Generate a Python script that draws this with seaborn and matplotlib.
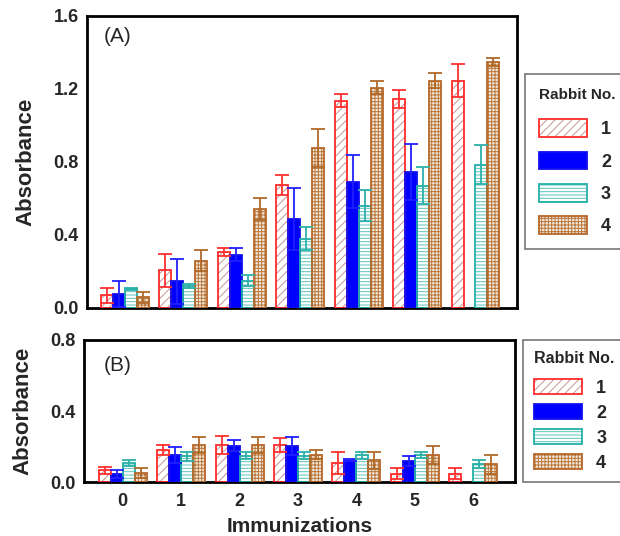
import numpy as np
import pandas as pd
import matplotlib
matplotlib.use("Agg")
import matplotlib.pyplot as plt
import seaborn as sns
from matplotlib.patches import Rectangle, Patch

# ---------------- data ----------------
immunizations = ["0", "1", "2", "3", "4", "5", "6"]
rabbits = ["1", "2", "3", "4"]

# Panel A
a_r1 = [0.070, 0.206, 0.307, 0.675, 1.135, 1.146, 1.246]
a_r1_err = [0.040, 0.090, 0.020, 0.055, 0.035, 0.050, 0.090]
a_r2 = [0.077, 0.146, 0.292, 0.490, 0.693, 0.745, np.nan]
a_r2_err = [0.073, 0.124, 0.036, 0.170, 0.147, 0.151, np.nan]
a_r3 = [0.104, 0.119, 0.150, 0.380, 0.560, 0.670, 0.785]
a_r3_err = [0.006, 0.010, 0.030, 0.065, 0.086, 0.100, 0.107]
a_r4 = [0.058, 0.260, 0.540, 0.876, 1.208, 1.246, 1.347]
a_r4_err = [0.032, 0.060, 0.060, 0.104, 0.035, 0.042, 0.020]

# Panel B
b_r1 = [0.067, 0.178, 0.208, 0.208, 0.107, 0.047, 0.047]
b_r1_err = [0.019, 0.028, 0.049, 0.039, 0.060, 0.032, 0.030]
b_r2 = [0.045, 0.150, 0.204, 0.204, 0.125, 0.120, np.nan]
b_r2_err = [0.022, 0.045, 0.030, 0.049, 0.005, 0.028, np.nan]
b_r3 = [0.105, 0.144, 0.148, 0.148, 0.150, 0.152, 0.101]
b_r3_err = [0.017, 0.026, 0.021, 0.021, 0.019, 0.017, 0.024]
b_r4 = [0.050, 0.210, 0.210, 0.155, 0.122, 0.154, 0.101]
b_r4_err = [0.030, 0.046, 0.046, 0.028, 0.047, 0.050, 0.053]

# ---------------- styles ----------------
edge_colors = ["#ff2a2a", "#1010ee", "#22b0a8", "#b8682a"]
face_colors = ["white", "#0000ff", "white", "#f4e8d8"]
hatch_colors = ["#c49494", "#0000ff", "#5cc4bc", "#b8783e"]
hatches = ["////", "", "-----", "+++++"]
err_colors = ["#ff3030", "#2020ff", "#2cb0a8", "#b06a2a"]

sns.set_style("white")
plt.rcParams["font.family"] = ["Liberation Sans", "DejaVu Sans"]
plt.rcParams["hatch.linewidth"] = 0.7


def long_df(series, errs):
    rows = []
    for r, vals, es in zip(rabbits, series, errs):
        for imm, v, e in zip(immunizations, vals, es):
            rows.append({"Immunization": imm, "Rabbit": r, "Absorbance": v, "err": e})
    return pd.DataFrame(rows)


df_a = long_df([a_r1, a_r2, a_r3, a_r4], [a_r1_err, a_r2_err, a_r3_err, a_r4_err])
df_b = long_df([b_r1, b_r2, b_r3, b_r4], [b_r1_err, b_r2_err, b_r3_err, b_r4_err])

fig = plt.figure(figsize=(6.2, 5.36), dpi=100)
ax_a = fig.add_axes([0.1403, 0.4254, 0.6935, 0.5448])
ax_b = fig.add_axes([0.1355, 0.1007, 0.6950, 0.2650])


def draw(ax, df):
    sns.barplot(data=df.dropna(subset=["Absorbance"]), x="Immunization", y="Absorbance",
                hue="Rabbit", order=immunizations, hue_order=rabbits,
                palette=edge_colors, saturation=1, width=0.82, errorbar=None,
                legend=False, ax=ax)
    bar_containers = list(ax.containers)
    for i, cont in enumerate(bar_containers):
        sub = df[df["Rabbit"] == rabbits[i]].set_index("Immunization")
        xs, ys, es = [], [], []
        for bar in cont:
            bar.set_facecolor(face_colors[i])
            bar.set_hatch(hatches[i])
            bar.set_edgecolor(hatch_colors[i])
            bar.set_linewidth(0)
            bar.set_zorder(2)
            outline = Rectangle(bar.get_xy(), bar.get_width(), bar.get_height(),
                                fill=False, edgecolor=edge_colors[i], linewidth=1.3,
                                zorder=3)
            ax.add_patch(outline)
            xc = bar.get_x() + bar.get_width() / 2
            key = immunizations[int(round(xc))]
            xs.append(xc)
            ys.append(bar.get_height())
            es.append(sub.loc[key, "err"])
        ax.errorbar(xs, ys, yerr=es, fmt="none", ecolor=err_colors[i],
                    elinewidth=1.3, capsize=5, capthick=1.3, zorder=4)
    for s in ax.spines.values():
        s.set_linewidth(2)
        s.set_color("black")
        s.set_visible(True)
    ax.tick_params(axis="y", direction="in", length=4, width=1, labelsize=13, pad=6)
    ax.tick_params(axis="x", length=0, labelsize=13, pad=8)
    for lab in ax.get_yticklabels() + ax.get_xticklabels():
        lab.set_fontweight("bold")
    ax.set_ylabel("Absorbance", fontsize=16, fontweight="bold", labelpad=12)


def legend(ax, anchor, hh, ls, bp, hl, tsize, title_sep):
    handles = []
    for i in range(4):
        fillp = Patch(facecolor=face_colors[i], edgecolor=hatch_colors[i],
                      hatch=hatches[i], linewidth=0)
        outp = Patch(facecolor="none", edgecolor=edge_colors[i], linewidth=1.3)
        handles.append((fillp, outp))
    leg = ax.legend(handles, rabbits, loc="upper left", bbox_to_anchor=anchor,
                    title="Rabbit No.", frameon=True, fancybox=False,
                    handlelength=hl, handleheight=hh, labelspacing=ls,
                    handletextpad=0.8, borderpad=bp, borderaxespad=0,
                    prop={"size": 13, "weight": "bold"},
                    title_fontproperties={"size": tsize, "weight": "bold"})
    leg._legend_box.align = "left"
    leg._legend_box.sep = title_sep
    leg.get_frame().set_edgecolor("#555555")
    leg.get_frame().set_linewidth(1.2)
    return leg


# Panel A
draw(ax_a, df_a)
ax_a.set_xlim(-0.65, 6.71)
ax_a.set_ylim(0, 1.6)
ax_a.set_yticks([0.0, 0.4, 0.8, 1.2, 1.6])
ax_a.set_yticklabels(["0.0", "0.4", "0.8", "1.2", "1.6"], fontweight="bold")
ax_a.set_xticklabels([])
ax_a.set_xlabel("")
ax_a.text(0.04, 0.93, "(A)", transform=ax_a.transAxes, fontsize=15,
          ha="left", va="center")
legend(ax_a, (1.019, 0.80), 1.15, 0.73, 0.75, 2.65, 11, 12.5)

# Panel B
draw(ax_b, df_b)
ax_b.set_xlim(-0.66, 6.71)
ax_b.set_ylim(0, 0.8)
ax_b.set_yticks([0.0, 0.4, 0.8])
ax_b.set_yticklabels(["0.0", "0.4", "0.8"], fontweight="bold")
ax_b.set_xlabel("Immunizations", fontsize=15, fontweight="bold", labelpad=5)
ax_b.text(0.045, 0.82, "(B)", transform=ax_b.transAxes, fontsize=15,
          ha="left", va="center")
legend(ax_b, (1.019, 1.0), 0.9, 0.4, 0.6, 2.65, 11.5, 9.5)

fig.savefig("out.png", dpi=100)
